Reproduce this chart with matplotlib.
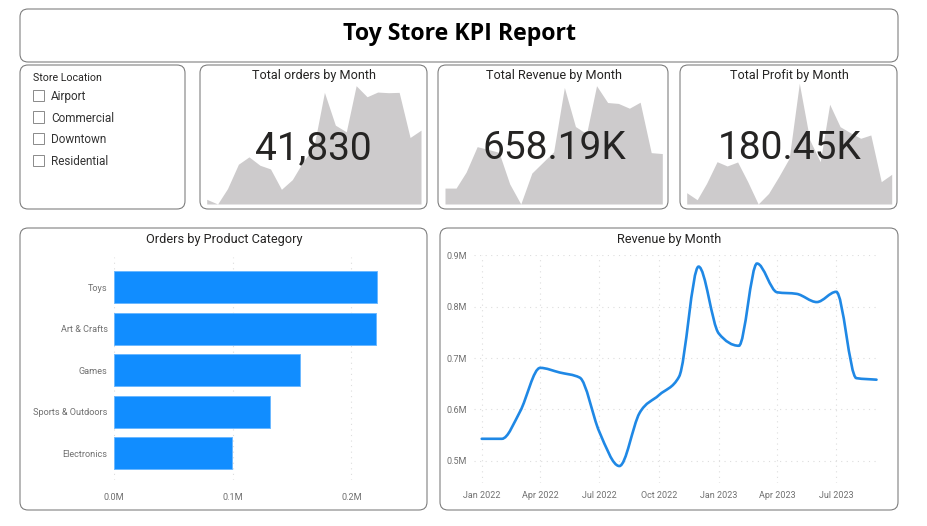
import numpy as np
import pandas as pd
import matplotlib
matplotlib.use("Agg")
import matplotlib.pyplot as plt
import matplotlib.dates as mdates
from matplotlib.patches import FancyBboxPatch, Rectangle, PathPatch
from matplotlib.path import Path

W, H = 928, 526

months = pd.date_range("2022-01-01", "2023-09-01", freq="MS")
orders_by_month = [28880, 28000, 30880, 35450, 36830, 35260, 34570, 30750, 32570, 35890, 38700,
                   48910, 42770, 41520, 50160, 48090, 48970, 48850, 48910, 40460, 41830]
revenue_by_month = [0.543, 0.543, 0.596, 0.681, 0.672, 0.662, 0.557, 0.490, 0.593, 0.628, 0.664,
                    0.878, 0.748, 0.724, 0.884, 0.828, 0.825, 0.809, 0.829, 0.661, 0.658]
profit_by_month = [161.6, 154.4, 171.2, 193.4, 189.0, 193.1, 172.9, 150.0, 160.9, 178.0, 196.9,
                   273.8, 215.7, 193.4, 252.3, 229.3, 223.2, 217.4, 220.8, 172.9, 180.45]

categories = ["Toys", "Art & Crafts", "Games", "Sports & Outdoors", "Electronics"]
category_orders = [0.2213, 0.2208, 0.157, 0.1315, 0.0992]
stores = ["Airport", "Commercial", "Downtown", "Residential"]

plt.rcParams["font.family"] = ["Roboto", "DejaVu Sans"]

GREY = "#CDCBCC"
BLUE = "#118DFF"
LINE = "#1F88E5"
TICK = "#707070"
TEXT = "#252423"
GRID = "#DDDDDD"
DOTS = (0, (1, 4))


def px_axes(left, top, right, bottom, **kw):
    # axes placed by pixel box, y counted from the top of the image
    return fig.add_axes([left / W, 1 - bottom / H, (right - left) / W, (bottom - top) / H], **kw)


def panel(left, top, right, bottom):
    r = 8
    bg.add_patch(FancyBboxPatch((left + r, top + r), right - left - 2 * r, bottom - top - 2 * r,
                                boxstyle=f"round,pad={r},rounding_size={r}",
                                fc="white", ec="#777777", lw=0.75))


def label(x, y, s, size, ha="center", color=TEXT, **kw):
    fig.text(x / W, 1 - y / H, s, fontsize=size, ha=ha, va="center", color=color, zorder=5, **kw)


def spark(left, top, right, values):
    ax = px_axes(left, top, right, 204)
    ax.fill_between(mdates.date2num(months), values, min(values), color=GREY, lw=0)
    ax.set_xlim(mdates.date2num(months[0]), mdates.date2num(months[-1]))
    ax.set_ylim(min(values), max(values))
    ax.axis("off")
    ax.patch.set_alpha(0)


def monotone_path(x, y):
    # smooth line through the monthly values, flat at each turning point
    x, y = np.asarray(x, float), np.asarray(y, float)
    h = np.diff(x)
    s = np.diff(y) / h
    t = np.zeros(len(x))
    for i in range(1, len(x) - 1):
        if s[i - 1] * s[i] > 0:
            p = (s[i - 1] * h[i] + s[i] * h[i - 1]) / (h[i - 1] + h[i])
            t[i] = np.sign(s[i]) * min(abs(s[i - 1]), abs(s[i]), 0.5 * abs(p)) * 2
    t[0], t[-1] = s[0], s[-1]
    verts = [(x[0], y[0])]
    codes = [Path.MOVETO]
    for i in range(len(h)):
        verts += [(x[i] + h[i] / 3, y[i] + t[i] * h[i] / 3),
                  (x[i + 1] - h[i] / 3, y[i + 1] - t[i + 1] * h[i] / 3),
                  (x[i + 1], y[i + 1])]
        codes += [Path.CURVE4] * 3
    return Path(verts, codes)


fig = plt.figure(figsize=(W / 100, H / 100), dpi=100, facecolor="white")

bg = fig.add_axes([0, 0, 1, 1], zorder=-1)
bg.set_xlim(0, W)
bg.set_ylim(H, 0)
bg.axis("off")

panel(20, 9, 898, 62)
panel(20, 65, 185, 209)
panel(200, 65, 427, 209)
panel(438, 65, 668, 209)
panel(680, 65, 897, 209)
panel(20, 228, 427, 510)
panel(440, 228, 898, 510)

label(459.5, 34.5, "Toy Store KPI Report", 16.7, family=["Open Sans", "DejaVu Sans"], weight="bold", color="black")

# slicer
label(33, 78, "Store Location", 7.7, ha="left")
for i, store in enumerate(stores):
    y = 95.5 + i * 21.6
    bg.add_patch(Rectangle((33, y - 5.8), 11.5, 11.5, fc="white", ec="#8A8A8A", lw=0.7))
    label(51, y + 1, store, 8.5, ha="left", color="#333333")

# kpi cards
spark(206.7, 85.7, 421, orders_by_month)
spark(445, 85.7, 662.3, revenue_by_month)
spark(686.7, 83.3, 891.7, profit_by_month)

label(314, 75.5, "Total orders by Month", 9.1)
label(554, 75.5, "Total Revenue by Month", 9.1)
label(789, 75.5, "Total Profit by Month", 9.1)
label(313.5, 148.5, "41,830", 28)
label(554.5, 148.5, "658.19K", 28)
label(789.5, 148.5, "180.45K", 28)

# bars
label(224, 240, "Orders by Product Category", 9.2)
ax = px_axes(114, 257, 400, 480)
ax.barh(range(len(categories)), category_orders, height=0.77, color=BLUE, edgecolor="#6CB8FF", lw=0.7, zorder=2)
ax.set_xlim(0, 0.241)
ax.set_ylim(4.64, -0.73)
ax.set_yticks(range(len(categories)), categories)
ax.set_xticks([0, 0.1, 0.2], ["0.0M", "0.1M", "0.2M"])
ax.tick_params(length=0, labelsize=6.6, labelcolor=TICK)
ax.tick_params(axis="y", pad=4.5)
ax.tick_params(axis="x", pad=9)
ax.grid(axis="x", color=GRID, ls=DOTS, lw=0.8, zorder=0)
for s in ax.spines.values():
    s.set_visible(False)

# revenue line
label(669, 240, "Revenue by Month", 9.2)
ax = px_axes(474, 255.3, 880, 483)
x = mdates.date2num(months)
ax.add_patch(PathPatch(monotone_path(x, revenue_by_month), fc="none", ec=LINE, lw=1.9, capstyle="round", zorder=3))
start = mdates.date2num(pd.Timestamp("2022-01-01"))
ax.set_xlim(start - 11.9, start + 613.4)
ax.set_ylim(0.457, 0.9)
ax.set_yticks([0.5, 0.6, 0.7, 0.8, 0.9], ["0.5M", "0.6M", "0.7M", "0.8M", "0.9M"])
tick_dates = pd.date_range("2022-01-01", "2023-07-01", freq="3MS")
ax.set_xticks(mdates.date2num(tick_dates), [d.strftime("%b %Y") for d in tick_dates])
ax.tick_params(length=0, labelsize=6.5, labelcolor=TICK)
ax.tick_params(axis="y", pad=5)
ax.tick_params(axis="x", pad=5.5)
ax.grid(color=GRID, ls=DOTS, lw=0.8, zorder=0)
for s in ax.spines.values():
    s.set_visible(False)

fig.savefig("out.png", dpi=100)
